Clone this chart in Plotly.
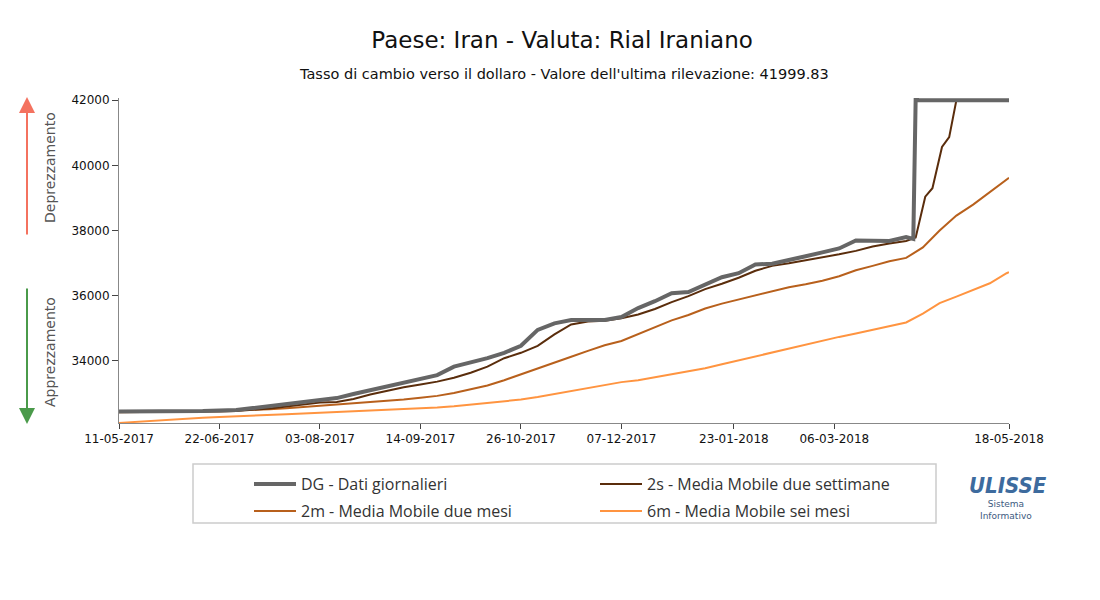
import plotly.graph_objects as go
import pandas as pd

# weekly readings from 2017-05-11
week_dates = pd.date_range("2017-05-11", periods=54, freq="7D")

dg_weekly = [32444, 32444, 32444, 32450, 32450, 32460, 32475, 32490, 32550, 32610,
             32670, 32735, 32795, 32855, 32980, 33100, 33225, 33330, 33470, 33560,
             33820, 33940, 34080, 34245, 34460, 34950, 35150, 35250, 35240, 35250,
             35345, 35620, 35830, 36075, 36110, 36350, 36565, 36690, 36960, 36980,
             37085, 37210, 37330, 37450, 37695, 37680, 37680, 37800]
dg_tail_dates = ["2018-04-08", "2018-04-09", "2018-04-10", "2018-05-18"]
dg_tail = [37740, 42090, 42000, 42000]

ma2s_weekly = [32429, 32429, 32429, 32430, 32432, 32440, 32445, 32460, 32490, 32535,
               32600, 32660, 32720, 32735, 32825, 32965, 33085, 33190, 33270, 33360,
               33480, 33635, 33820, 34080, 34245, 34460, 34810, 35115, 35205, 35230,
               35305, 35420, 35590, 35800, 35985, 36200, 36365, 36550, 36765, 36915,
               36995, 37085, 37160, 37270, 37375, 37510, 37605, 37680]
ma2s_tail_dates = ["2018-04-09", "2018-04-13", "2018-04-16", "2018-04-20", "2018-04-23",
                   "2018-04-26", "2018-05-18"]
ma2s_tail = [37785, 39040, 39300, 40565, 40870, 42000, 42000]

ma2m = [32423, 32423, 32430, 32438, 32445, 32453, 32466, 32480, 32500, 32515,
        32545, 32582, 32618, 32650, 32695, 32735, 32770, 32810, 32862, 32923,
        33010, 33115, 33240, 33405, 33590, 33770, 33940, 34123, 34305, 34475,
        34610, 34825, 35040, 35240, 35405, 35605, 35755, 35880, 36000, 36140,
        36260, 36350, 36460, 36595, 36780, 36915, 37055, 37160, 37480, 38000,
        38460, 38795, 39175, 39560]
ma2m_last = 39620

ma6m = [32093, 32130, 32163, 32194, 32225, 32255, 32276, 32292, 32316, 32337,
        32362, 32383, 32405, 32423, 32444, 32466, 32487, 32505, 32530, 32566,
        32603, 32658, 32704, 32750, 32810, 32887, 32978, 33070, 33177, 33268,
        33345, 33406, 33497, 33574, 33680, 33772, 33894, 34016, 34138, 34245,
        34368, 34490, 34612, 34734, 34840, 34947, 35070, 35176, 35450, 35770,
        35970, 36170, 36380, 36690]
ma6m_last = 36720

tick_dates = ["2017-05-11", "2017-06-22", "2017-08-03", "2017-09-14", "2017-10-26",
              "2017-12-07", "2018-01-23", "2018-03-06", "2018-05-18"]
tick_labels = [pd.Timestamp(d).strftime("%d-%m-%Y") for d in tick_dates]
y_ticks = [34000, 36000, 38000, 40000, 42000]

n = len(dg_weekly)
dg_x = list(week_dates[:n]) + [pd.Timestamp(d) for d in dg_tail_dates]
dg_y = dg_weekly + dg_tail
s2_x = list(week_dates[:len(ma2s_weekly)]) + [pd.Timestamp(d) for d in ma2s_tail_dates]
s2_y = ma2s_weekly + ma2s_tail
m_x = list(week_dates) + [pd.Timestamp("2018-05-18")]

font = "DejaVu Sans"
fig = go.Figure()
fig.add_trace(go.Scatter(x=m_x, y=ma6m + [ma6m_last], mode='lines',
                         line=dict(width=2, color='#ff9440'), showlegend=False))
fig.add_trace(go.Scatter(x=m_x, y=ma2m + [ma2m_last], mode='lines',
                         line=dict(width=2, color='#b8601c'), showlegend=False))
fig.add_trace(go.Scatter(x=s2_x, y=s2_y, mode='lines',
                         line=dict(width=2, color='#5a2d0c'), showlegend=False))
fig.add_trace(go.Scatter(x=dg_x, y=dg_y, mode='lines',
                         line=dict(width=4, color='#666666'), showlegend=False))

# legend entries, two rows
for name, color, w, lg in [('DG - Dati giornalieri', '#666666', 4, 'legend'),
                           ('2s - Media Mobile due settimane', '#5a2d0c', 2, 'legend'),
                           ('2m - Media Mobile due mesi', '#b8601c', 2, 'legend2'),
                           ('6m - Media Mobile sei mesi', '#ff9440', 2, 'legend2')]:
    fig.add_trace(go.Scatter(x=[None], y=[None], mode='lines', name=name,
                             line=dict(width=w, color=color), legend=lg))

fig.update_xaxes(type='date', range=["2017-05-11", "2018-05-18"],
                 tickvals=tick_dates, ticktext=tick_labels,
                 showgrid=False, zeroline=False, showline=True, linecolor='#888888',
                 ticks='outside', ticklen=5, tickcolor='#444444',
                 tickfont=dict(family=font, size=12, color='#111111'))
fig.update_yaxes(range=[32090, 42070], tickvals=y_ticks, ticktext=[str(v) for v in y_ticks],
                 showgrid=False, zeroline=False, showline=True, linecolor='#888888',
                 ticks='outside', ticklen=6, tickcolor='#444444',
                 tickfont=dict(family=font, size=12, color='#111111'))

leg_common = dict(orientation='h', xanchor='left', yanchor='top',
                  entrywidth=289, itemwidth=42,
                  font=dict(family='Open Sans', size=16, color='#333333'),
                  bgcolor='rgba(0,0,0,0)', borderwidth=0)

fig.update_layout(
    width=1100, height=600,
    margin=dict(l=119, r=91, t=98, b=177),
    plot_bgcolor='white', paper_bgcolor='white',
    title=dict(text='Paese: Iran - Valuta: Rial Iraniano', x=0.511, xanchor='center',
               y=1 - 40 / 600, yanchor='middle', yref='container',
               font=dict(family=font, size=23, color='#111111')),
    legend=dict(x=(249 - 119) / 890, y=(423 - 467) / 325, **leg_common),
    legend2=dict(x=(249 - 119) / 890, y=(423 - 494) / 325, **leg_common),
    shapes=[dict(type='rect', xref='paper', yref='paper',
                 x0=(193 - 119) / 890, x1=(936 - 119) / 890,
                 y0=(423 - 523) / 325, y1=(423 - 464) / 325,
                 line=dict(color='#cccccc', width=1.5))],
    annotations=[
        dict(text="Tasso di cambio verso il dollaro - Valore dell'ultima rilevazione: 41999.83",
             xref='paper', yref='paper', x=(564 - 119) / 890, y=(423 - 74) / 325,
             xanchor='center', yanchor='middle',
             showarrow=False, font=dict(family=font, size=14.5, color='#111111')),
        dict(text='', xref='paper', yref='paper', x=(27 - 119) / 890, y=(423 - 97) / 325,
             ax=0, ay=139, showarrow=True, arrowhead=2, arrowsize=1.6, arrowwidth=2,
             arrowcolor='#f4725f'),
        dict(text='', xref='paper', yref='paper', x=(27 - 119) / 890, y=(423 - 424) / 325,
             ax=0, ay=-137, showarrow=True, arrowhead=2, arrowsize=1.6, arrowwidth=2,
             arrowcolor='#4a9a4a'),
        dict(text='Deprezzamento', textangle=-90, xref='paper', yref='paper',
             x=(50 - 119) / 890, y=(423 - 168) / 325, xanchor='center', yanchor='middle',
             showarrow=False, font=dict(family=font, size=14, color='#555555')),
        dict(text='Apprezzamento', textangle=-90, xref='paper', yref='paper',
             x=(50 - 119) / 890, y=(423 - 352) / 325, xanchor='center', yanchor='middle',
             showarrow=False, font=dict(family=font, size=14, color='#555555')),
        dict(text='<b><i>ULISSE</i></b>', xref='paper', yref='paper',
             x=(1008 - 119) / 890, y=(423 - 485) / 325, xanchor='center', yanchor='middle',
             showarrow=False,
             font=dict(family='Liberation Sans Narrow, DejaVu Sans Condensed, DejaVu Sans',
                       size=22, color='#3d6b9e')),
        dict(text='Sistema<br>Informativo', xref='paper', yref='paper',
             x=(1006 - 119) / 890, y=(423 - 510) / 325, xanchor='center', yanchor='middle',
             showarrow=False, font=dict(family=font, size=9, color='#3d5a80')),
    ],
)

fig.write_html("out.html", config=dict(displayModeBar=False),
               post_script="document.body.style.margin='0';")
